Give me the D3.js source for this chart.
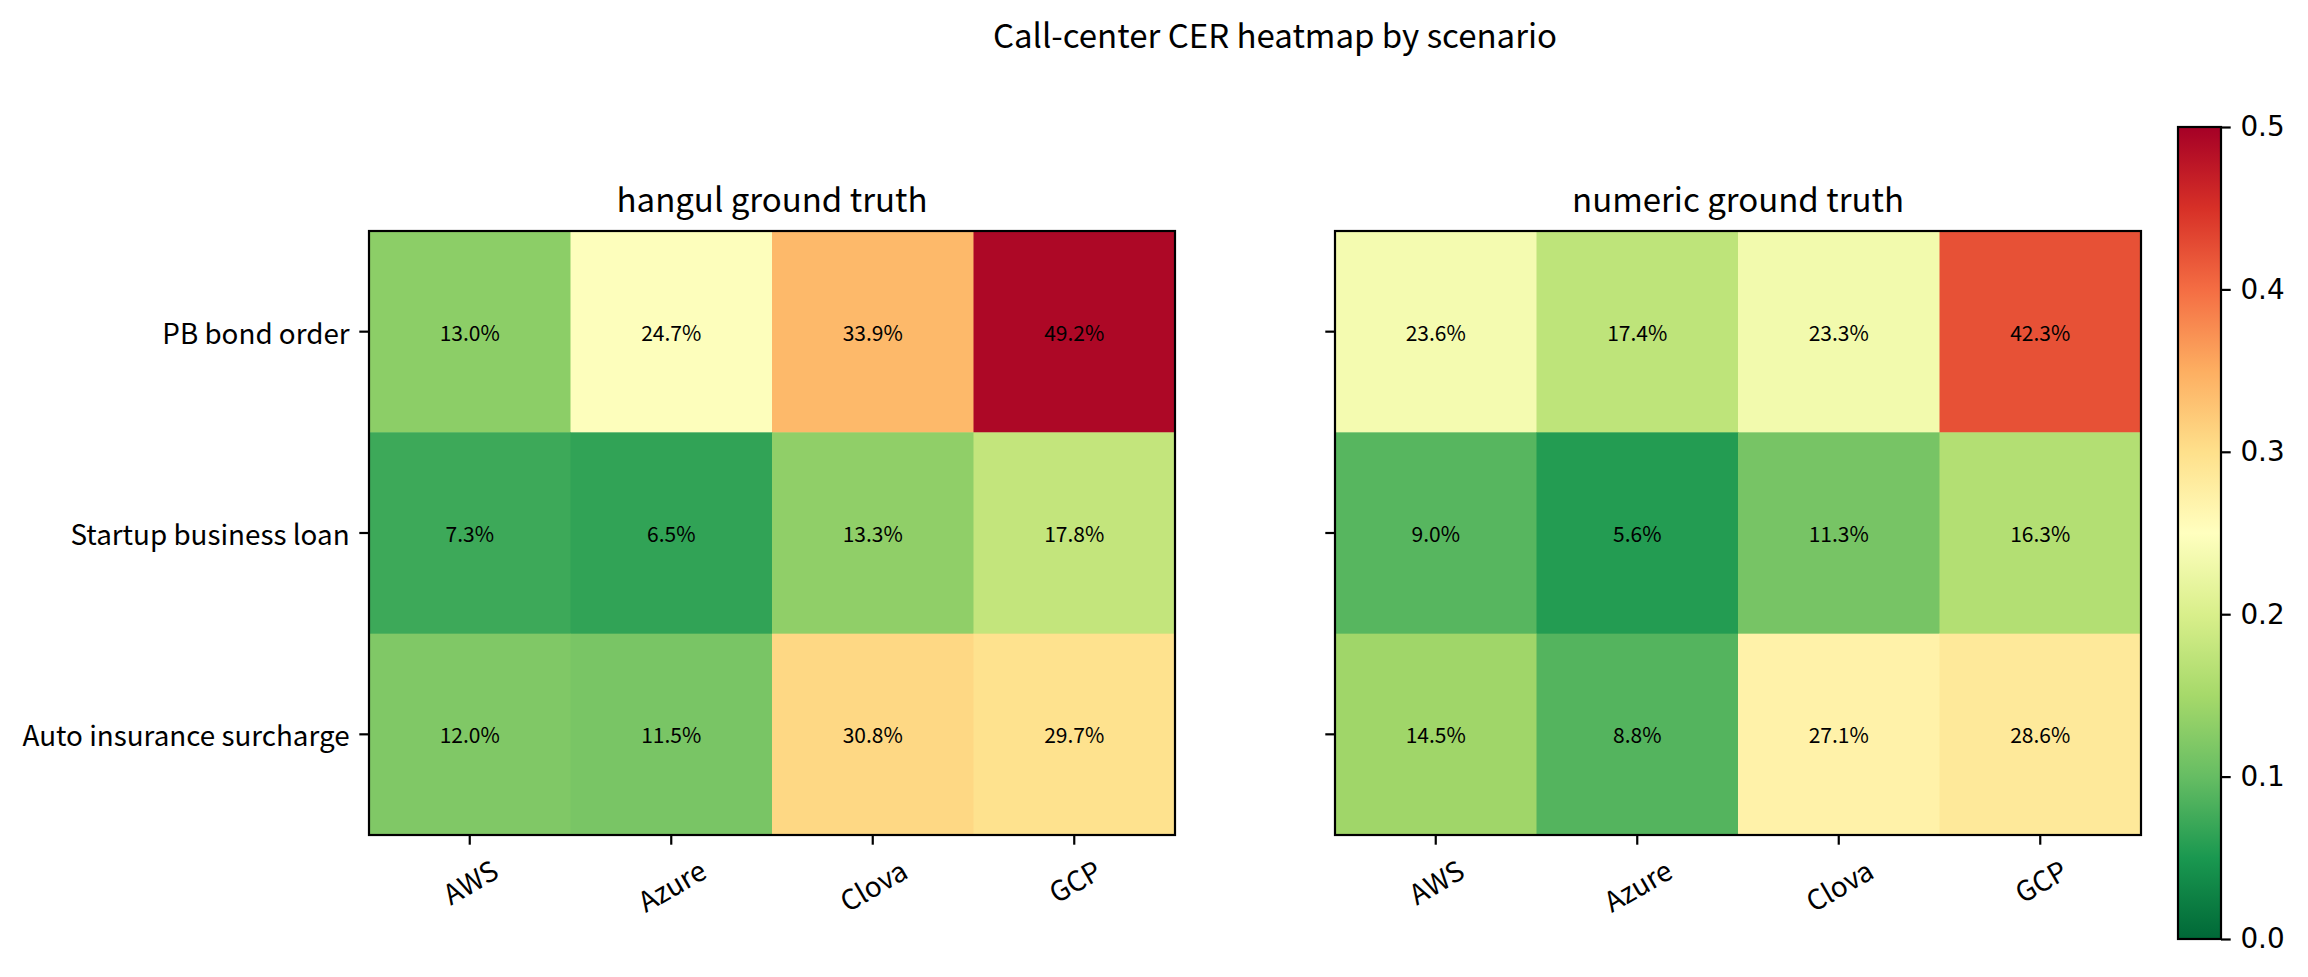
<!DOCTYPE html>
<html>
<head>
<meta charset="utf-8">
<script src="https://cdn.jsdelivr.net/npm/d3@7"></script>
<style>
  body { margin: 0; background: #fff; }
  text { font-family: "Noto Sans CJK KR", "Noto Sans", sans-serif; fill: #000; }
  .cbar text { font-family: "DejaVu Sans", sans-serif; }
</style>
</head>
<body>
<svg id="chart" width="2308" height="977"></svg>
<script>
// values (CER, fraction)
const providers = ["AWS", "Azure", "Clova", "GCP"];
const scenarios = ["PB bond order", "Startup business loan", "Auto insurance surcharge"];
const hangulCer = [
  [0.130, 0.247, 0.339, 0.492],
  [0.073, 0.065, 0.133, 0.178],
  [0.120, 0.115, 0.308, 0.297]
];
const numericCer = [
  [0.236, 0.174, 0.233, 0.423],
  [0.090, 0.056, 0.113, 0.163],
  [0.145, 0.088, 0.271, 0.286]
];
const panelTitles = ["hangul ground truth", "numeric ground truth"];
const cbarTicks = [0.0, 0.1, 0.2, 0.3, 0.4, 0.5];

// matplotlib RdYlGn, reversed (green = low)
const rdylgn = ["#a50026", "#d73027", "#f46d43", "#fdae61", "#fee08b", "#ffffbf",
                "#d9ef8b", "#a6d96a", "#66bd63", "#1a9850", "#006837"].reverse();
const vmin = 0, vmax = 0.5;
const color = d3.scaleLinear()
  .domain(d3.range(rdylgn.length).map(i => vmin + (vmax - vmin) * i / (rdylgn.length - 1)))
  .range(rdylgn)
  .interpolate(d3.interpolateRgb)
  .clamp(true);

const svg = d3.select("#chart");
svg.append("rect").attr("width", 2308).attr("height", 977).attr("fill", "#fff");

svg.append("text")
  .attr("x", 1275).attr("y", 48)
  .attr("text-anchor", "middle")
  .style("font-size", "33px")
  .text("Call-center CER heatmap by scenario");

const panelLefts = [369, 1335];
const axTop = 231, axW = 806, axH = 604;
const tickLen = 9.7, lw = 2.2;

const y = d3.scaleBand().domain(scenarios).range([axTop, axTop + axH]);

[hangulCer, numericCer].forEach((matrix, p) => {
  const left = panelLefts[p];
  const x = d3.scaleBand().domain(providers).range([left, left + axW]);
  const g = svg.append("g");

  const cells = matrix.flatMap((row, i) => row.map((v, j) => ({ s: scenarios[i], prov: providers[j], v })));

  g.selectAll("rect.cell")
    .data(cells)
    .join("rect")
    .attr("class", "cell")
    .attr("x", d => x(d.prov))
    .attr("y", d => y(d.s))
    .attr("width", x.bandwidth() + 0.5)
    .attr("height", y.bandwidth() + 0.5)
    .attr("fill", d => color(d.v));

  g.selectAll("text.ann")
    .data(cells)
    .join("text")
    .attr("class", "ann")
    .attr("x", d => x(d.prov) + x.bandwidth() / 2)
    .attr("y", d => y(d.s) + y.bandwidth() / 2)
    .attr("text-anchor", "middle")
    .attr("dominant-baseline", "central")
    .style("font-size", "21px")
    .text(d => (d.v * 100).toFixed(1) + "%");

  // frame
  g.append("rect")
    .attr("x", left).attr("y", axTop)
    .attr("width", axW).attr("height", axH)
    .attr("fill", "none").attr("stroke", "#000").attr("stroke-width", lw);

  // x ticks
  providers.forEach(name => {
    const cx = x(name) + x.bandwidth() / 2;
    g.append("line")
      .attr("x1", cx).attr("x2", cx)
      .attr("y1", axTop + axH).attr("y2", axTop + axH + tickLen)
      .attr("stroke", "#000").attr("stroke-width", lw);
    const t = g.append("text")
      .attr("text-anchor", "middle")
      .attr("dominant-baseline", "central")
      .style("font-size", "27.8px")
      .text(name);
    const w = t.node().getComputedTextLength();
    const h = 27.8;
    const a = 30 * Math.PI / 180;
    const bboxH = w * Math.sin(a) + h * Math.cos(a);
    const top = axTop + axH + tickLen + 9.7;
    t.attr("transform", `translate(${cx},${top + bboxH / 2}) rotate(-30)`);
  });

  // y ticks
  scenarios.forEach(name => {
    const cy = y(name) + y.bandwidth() / 2;
    g.append("line")
      .attr("x1", left - tickLen).attr("x2", left)
      .attr("y1", cy).attr("y2", cy)
      .attr("stroke", "#000").attr("stroke-width", lw);
    if (p === 0) {
      g.append("text")
        .attr("x", left - tickLen - 9.7)
        .attr("y", cy)
        .attr("text-anchor", "end")
        .attr("dominant-baseline", "central")
        .style("font-size", "27.8px")
        .text(name);
    }
  });

  g.append("text")
    .attr("x", left + axW / 2).attr("y", axTop - 19)
    .attr("text-anchor", "middle")
    .style("font-size", "33px")
    .text(panelTitles[p]);
});

// colorbar
const cb = { x: 2178, y: 127, w: 43, h: 812 };
const cbScale = d3.scaleLinear().domain([vmin, vmax]).range([cb.y + cb.h, cb.y]);
const grad = svg.append("defs").append("linearGradient")
  .attr("id", "cbgrad")
  .attr("x1", 0).attr("y1", 1).attr("x2", 0).attr("y2", 0);
grad.selectAll("stop")
  .data(color.domain())
  .join("stop")
  .attr("offset", d => (d - vmin) / (vmax - vmin))
  .attr("stop-color", d => color(d));

const cbg = svg.append("g").attr("class", "cbar");
cbg.append("rect")
  .attr("x", cb.x).attr("y", cb.y).attr("width", cb.w).attr("height", cb.h)
  .attr("fill", "url(#cbgrad)")
  .attr("stroke", "#000").attr("stroke-width", lw);

const cbAxis = d3.axisRight(cbScale)
  .tickValues(cbarTicks)
  .tickFormat(d3.format(".1f"))
  .tickSize(tickLen)
  .tickPadding(9.7);
const ax = cbg.append("g")
  .attr("transform", `translate(${cb.x + cb.w},0)`)
  .call(cbAxis);
ax.select(".domain").remove();
ax.selectAll("line").attr("stroke", "#000").attr("stroke-width", lw);
ax.selectAll("text")
  .style("font-size", "27.8px")
  .style("font-family", "DejaVu Sans, sans-serif")
  .attr("fill", "#000");
</script>
</body>
</html>
